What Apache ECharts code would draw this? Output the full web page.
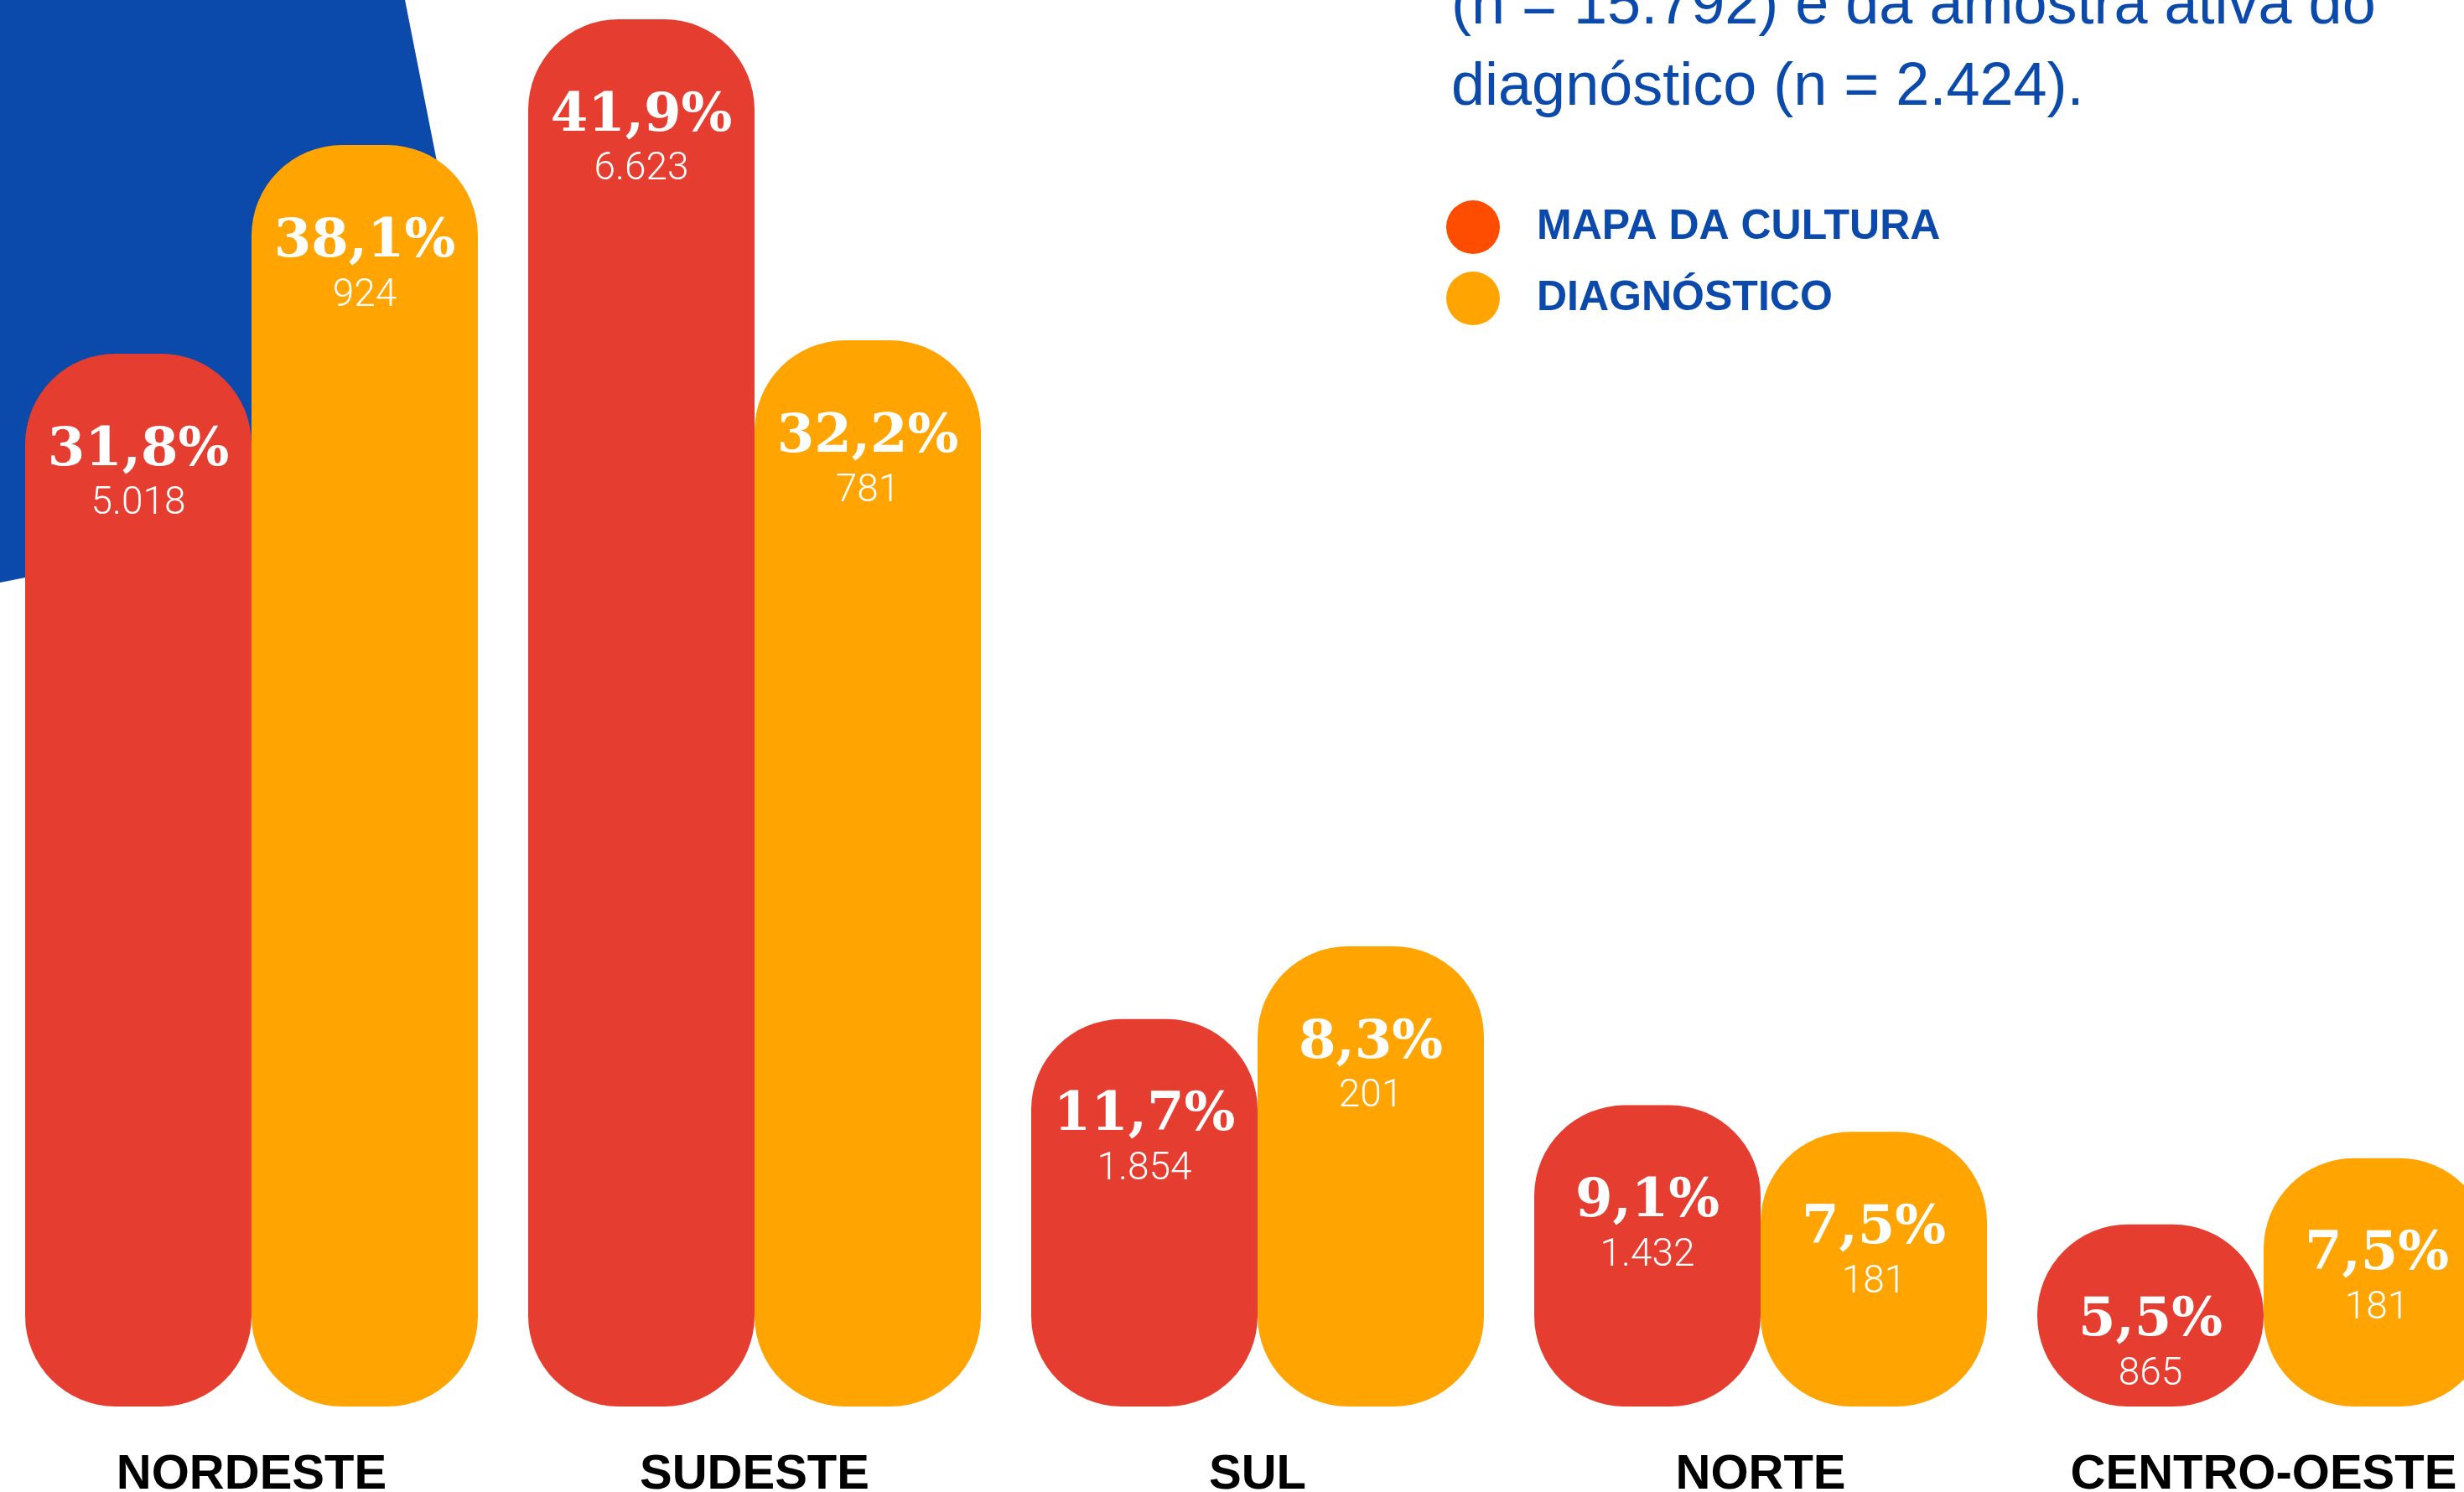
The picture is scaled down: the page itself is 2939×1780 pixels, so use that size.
<!DOCTYPE html>
<html>
<head>
<meta charset="utf-8">
<script src="https://cdn.jsdelivr.net/npm/echarts@6/dist/echarts.min.js"></script>
<style>
  html, body { margin: 0; padding: 0; background: #fff; }
  #chart { width: 2939px; height: 1780px; }
</style>
</head>
<body>
<div id="chart"></div>
<script>
let regioes = ['NORDESTE', 'SUDESTE', 'SUL', 'NORTE', 'CENTRO-OESTE']
let mapaPct = [31.8, 41.9, 11.7, 9.1, 5.5]
let mapaN = [5018, 6623, 1854, 1432, 865]
let diagPct = [38.1, 32.2, 8.3, 7.5, 7.5]
let diagN = [924, 781, 201, 181, 181]
// altura das barras do diagnóstico como aparecem no desenho
let diagAltura = [38.1, 32.2, 13.9, 8.3, 7.5]

let azul = '#0B4AAA'

let fmtPct = function (v) {
  return v.toFixed(1).replace('.', ',') + '%'
}
let fmtN = function (n) {
  return String(n).replace(/\B(?=(\d{3})+(?!\d))/g, '.')
}

let barLabel = function (pcts, ns) {
  return {
    show: true,
    position: 'insideTop',
    distance: 84,
    formatter: function (params) {
      let i = params.dataIndex
      return '{p|' + fmtPct(pcts[i]) + '}\n{n|' + fmtN(ns[i]) + '}'
    },
    rich: {
      p: {
        fontFamily: 'DejaVu Serif',
        fontWeight: 'bold',
        fontSize: 64,
        lineHeight: 64,
        color: '#fff'
      },
      n: {
        fontFamily: 'Roboto',
        fontWeight: 300,
        fontSize: 46,
        lineHeight: 64,
        color: '#fff'
      }
    }
  }
}

let option = {
  backgroundColor: '#fff',
  animation: false,
  title: {
    text: '(n = 15.792) e da amostra ativa do\ndiagnóstico (n = 2.424).',
    left: 1726,
    top: -45,
    textStyle: {
      fontFamily: 'Liberation Sans',
      fontWeight: 'normal',
      fontSize: 72,
      lineHeight: 97,
      color: azul
    }
  },
  legend: {
    orient: 'vertical',
    left: 1720,
    top: 234,
    icon: 'circle',
    itemWidth: 64,
    itemHeight: 64,
    itemGap: 21,
    textStyle: {
      fontFamily: 'Liberation Sans',
      fontWeight: 'bold',
      fontSize: 50,
      color: azul,
      padding: [0, 0, 0, 39]
    },
    data: [
      {name: 'MAPA DA CULTURA', itemStyle: {color: '#FF4D00'}},
      {name: 'DIAGNÓSTICO', itemStyle: {color: '#FFA400'}}
    ]
  },
  // círculo azul do fundo
  graphic: [{
    type: 'rect',
    z: -10,
    x: 597,
    y: 577,
    rotation: 0.195,
    shape: {x: -3000, y: -3000, width: 3000, height: 3000, r: 390},
    style: {fill: azul}
  }],
  grid: {
    left: 0,
    width: 3000,
    top: 19,
    height: 1659,
    outerBoundsMode: 'none',
    containLabel: false
  },
  xAxis: {
    type: 'category',
    data: regioes,
    axisLine: {show: false},
    axisTick: {show: false},
    axisLabel: {
      interval: 0,
      margin: 53,
      fontFamily: 'Liberation Sans',
      fontWeight: 'bold',
      fontSize: 58,
      color: '#000'
    }
  },
  yAxis: {
    type: 'value',
    min: 0,
    max: 42,
    show: false,
    splitLine: {show: false}
  },
  series: [
    {
      name: 'MAPA DA CULTURA',
      type: 'bar',
      barWidth: 270,
      barGap: '0%',
      itemStyle: {color: '#E53E30', borderRadius: 108},
      label: barLabel(mapaPct, mapaN),
      data: mapaPct
    },
    {
      name: 'DIAGNÓSTICO',
      type: 'bar',
      barWidth: 270,
      barGap: '0%',
      itemStyle: {color: '#FFA400', borderRadius: 108},
      label: barLabel(diagPct, diagN),
      data: diagAltura
    }
  ]
}

let chart = echarts.init(document.getElementById('chart'))
chart.setOption(option)
</script>
</body>
</html>
